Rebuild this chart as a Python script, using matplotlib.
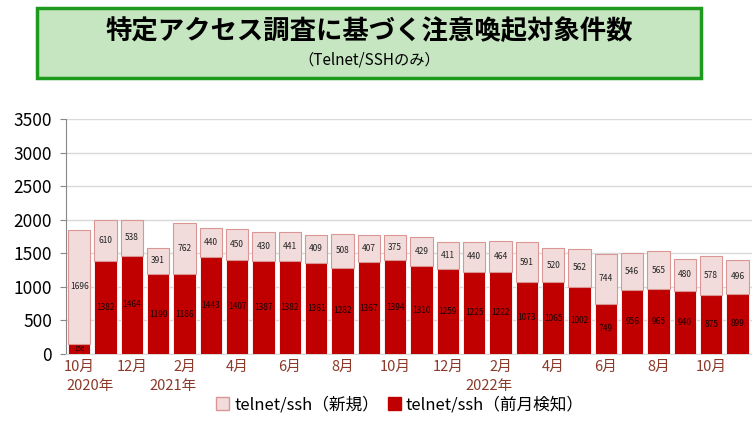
import matplotlib
matplotlib.use("Agg")
import matplotlib.pyplot as plt
from matplotlib.patches import Rectangle, Patch

plt.rcParams["font.family"] = ["Noto Sans CJK JP", "DejaVu Sans"]

# data (Oct 2020 - Nov 2022)
months = ["10月", "11月", "12月", "1月", "2月", "3月", "4月", "5月", "6月", "7月", "8月", "9月",
          "10月", "11月", "12月", "1月", "2月", "3月", "4月", "5月", "6月", "7月", "8月", "9月",
          "10月", "11月"]
prev_detected = [156, 1382, 1464, 1190, 1186, 1443, 1407, 1387, 1382, 1361, 1282, 1367,
                 1394, 1310, 1259, 1225, 1222, 1073, 1065, 1002, 749, 956, 965, 940,
                 875, 899]
new_detected = [1696, 610, 538, 391, 762, 440, 450, 430, 441, 409, 508, 407,
                375, 429, 411, 440, 464, 591, 520, 562, 744, 546, 565, 480,
                578, 496]
year_labels = {0: "2020年", 4: "2021年", 16: "2022年"}

DARK = "#C00000"
LIGHT = "#F2DCDB"
LIGHT_EDGE = "#D99694"
LABEL_COLOR = "#8B3A2A"

fig = plt.figure(figsize=(7.52, 4.25), dpi=100)

# title box
fig.patches.append(Rectangle((37 / 752, 1 - 78 / 425), 664 / 752, 70 / 425,
                             transform=fig.transFigure, facecolor="#C6E5C1",
                             edgecolor="#1E9A1E", linewidth=2.5))
fig.text(369 / 752, 1 - 31 / 425, "特定アクセス調査に基づく注意喚起対象件数",
         ha="center", va="center", fontsize=19, fontweight="bold")
fig.text(369 / 752, 1 - 60 / 425, "（Telnet/SSHのみ）", ha="center", va="center",
         fontsize=11)

ax = fig.add_axes([66 / 752, 1 - 354 / 425, 686 / 752, 235 / 425])
x = list(range(len(months)))
ax.bar(x, prev_detected, width=0.84, color=DARK, edgecolor="white", linewidth=0.6, zorder=3)
ax.bar(x, new_detected, width=0.84, bottom=prev_detected, color=LIGHT,
       edgecolor=LIGHT_EDGE, linewidth=0.8, zorder=3)

for i in x:
    p, n = prev_detected[i], new_detected[i]
    ax.text(i, p / 2, str(p), ha="center", va="center",
            fontsize=4.5 if p < 300 else 6, color="#1a0000", zorder=4)
    ax.text(i, p + n / 2, str(n), ha="center", va="center", fontsize=6,
            color="#222222", zorder=4)

ax.set_ylim(0, 3500)
ax.set_xlim(-0.5, len(months) - 0.45)
ax.set_yticks(range(0, 3501, 500))
ax.tick_params(axis="y", labelsize=12.5, length=4, color="#888888", pad=6)
ax.yaxis.grid(True, color="#D9D9D9", linewidth=1, zorder=0)
ax.set_axisbelow(True)

ax.set_xticks(x[::2])
ax.set_xticklabels(months[::2], fontsize=10.5, color=LABEL_COLOR)
ax.tick_params(axis="x", length=0, pad=4)
for i, lab in year_labels.items():
    if i == 0:
        ax.text(i - 0.5, -0.105, lab, transform=ax.get_xaxis_transform(),
                ha="left", va="top", fontsize=10.5, color=LABEL_COLOR)
    else:
        ax.text(i + 0.45, -0.105, lab, transform=ax.get_xaxis_transform(),
                ha="right", va="top", fontsize=10.5, color=LABEL_COLOR)

for s in ["top", "right"]:
    ax.spines[s].set_visible(False)
ax.spines["left"].set_color("#888888")
ax.spines["bottom"].set_color("#D9D9D9")

handles = [Patch(facecolor=LIGHT, edgecolor=LIGHT_EDGE, label="telnet/ssh（新規）"),
           Patch(facecolor=DARK, edgecolor=DARK, label="telnet/ssh（前月検知）")]
fig.legend(handles=handles, loc="center", bbox_to_anchor=(400 / 752, 1 - 405 / 425),
           ncol=2, frameon=False, fontsize=12, handlelength=0.8, handleheight=0.8,
           handletextpad=0.3, columnspacing=0.5)

fig.savefig("out.png", dpi=100)
